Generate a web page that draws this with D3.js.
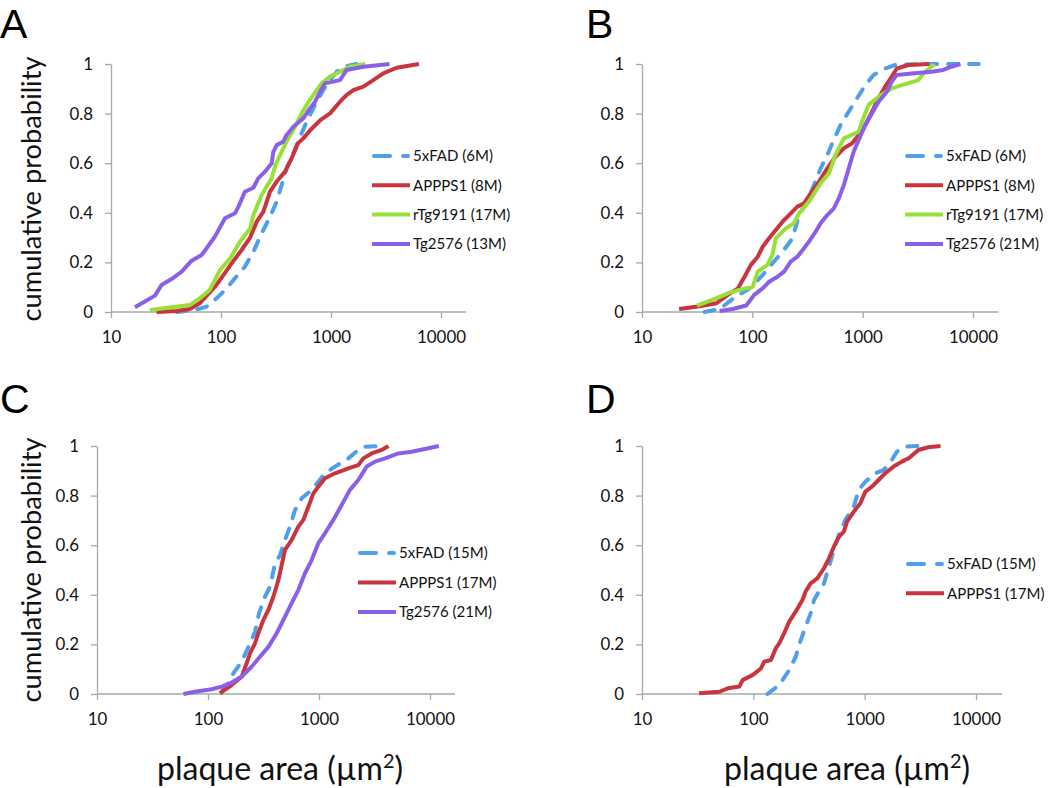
<!DOCTYPE html>
<html><head><meta charset="utf-8">
<script src="https://cdn.jsdelivr.net/npm/d3@7"></script>
<style>body{margin:0;background:#fff}svg{display:block}</style>
</head><body>
<svg id="c" width="1050" height="788"></svg>
<script>
// ---------- tick labels ----------
const xTickValues = [10, 100, 1000, 10000];
const xTickLabels = ["10", "100", "1000", "10000"];
const yTickValues = [0, 0.2, 0.4, 0.6, 0.8, 1];
const yTickLabels = ["0", "0.2", "0.4", "0.6", "0.8", "1"];
const panelLetters = ["A", "B", "C", "D"];
const yTitle = "cumulative probability";

// ---------- data: [plaque area (µm²), cumulative probability] ----------
// Panel A
const A_names = ["5xFAD (6M)", "APPPS1 (8M)", "rTg9191 (17M)", "Tg2576 (13M)"];
const A_5xFAD = [[39.5,0],[58,0.008],[74,0.022],[91,0.055],[109,0.089],[134,0.136],[165,0.183],[197,0.243],[234,0.317],[279,0.384],[321,0.445],[356,0.512],[395,0.579],[455,0.64],[523,0.707],[601,0.767],[667,0.808],[741,0.848],[851,0.895],[979,0.935],[1127,0.969],[1295,0.989],[1700,1]];
const A_APPPS1 = [[26,0],[39.5,0.004],[52,0.012],[64,0.035],[79,0.079],[91,0.109],[105,0.149],[125,0.196],[154,0.25],[184,0.3],[211,0.364],[243,0.405],[279,0.485],[321,0.526],[382,0.566],[439,0.62],[500,0.68],[560,0.7],[650,0.734],[800,0.774],[980,0.801],[1207,0.848],[1387,0.875],[1595,0.895],[1967,0.909],[2425,0.935],[2990,0.962],[3955,0.985],[6300,1]];
const A_rTg9191 = [[22.6,0.008],[52,0.028],[64,0.055],[79,0.089],[98,0.169],[121,0.216],[149,0.284],[184,0.337],[197,0.391],[234,0.472],[289,0.539],[309,0.586],[344,0.633],[395,0.687],[471,0.747],[541,0.801],[601,0.835],[691,0.875],[822,0.922],[979,0.949],[1207,0.969],[1489,0.989],[2050,1]];
const A_Tg2576 = [[16.5,0.019],[25.1,0.066],[28.8,0.109],[35.5,0.133],[43.9,0.163],[54.1,0.207],[66.7,0.23],[74,0.257],[88,0.304],[108.7,0.378],[134,0.398],[144,0.425],[165,0.485],[197,0.501],[218,0.539],[251,0.566],[289,0.6],[299,0.646],[321,0.673],[369,0.687],[395,0.714],[455,0.747],[560,0.781],[644,0.821],[716,0.848],[795,0.888],[882,0.922],[1207,0.935],[1387,0.976],[1967,0.989],[3400,1]];
// Panel B
const B_names = ["5xFAD (6M)", "APPPS1 (8M)", "rTg9191 (17M)", "Tg2576 (21M)"];
const B_5xFAD = [[37,0],[50.5,0.012],[71,0.062],[94,0.095],[124,0.149],[152,0.196],[188,0.243],[231,0.297],[265,0.391],[315,0.445],[362,0.512],[416,0.579],[478,0.633],[548,0.694],[630,0.754],[748,0.808],[890,0.862],[1058,0.915],[1257,0.956],[1600,0.982],[1968,0.996],[3430,1],[11300,1]];
const B_APPPS1 = [[21.7,0.012],[32,0.022],[47,0.035],[60,0.069],[74,0.095],[85,0.142],[97,0.19],[112,0.223],[124,0.263],[142,0.297],[163,0.331],[188,0.364],[223,0.398],[256,0.425],[294,0.438],[338,0.478],[402,0.526],[478,0.579],[567,0.626],[675,0.66],[802,0.68],[921,0.714],[1058,0.754],[1215,0.808],[1394,0.862],[1600,0.909],[1837,0.949],[2039,0.982],[2595,0.996],[4000,1]];
const B_rTg9191 = [[31.5,0.026],[47,0.055],[60,0.075],[76,0.089],[101,0.102],[112,0.163],[137,0.19],[152,0.23],[163,0.297],[201,0.337],[239,0.358],[265,0.398],[326,0.445],[416,0.519],[494,0.559],[567,0.633],[675,0.7],[921,0.727],[986,0.767],[1132,0.835],[1394,0.868],[1837,0.902],[2260,0.915],[3200,0.935],[3550,0.962],[4365,0.996],[4400,1]];
const B_Tg2576 = [[50.5,0.004],[66.5,0.012],[88,0.026],[104,0.069],[124,0.095],[142,0.122],[169,0.142],[194,0.163],[223,0.203],[256,0.223],[294,0.257],[326,0.284],[375,0.324],[416,0.358],[478,0.391],[548,0.418],[608,0.458],[675,0.512],[748,0.579],[830,0.647],[921,0.694],[1058,0.754],[1215,0.801],[1394,0.848],[1656,0.888],[1837,0.929],[2039,0.956],[2780,0.962],[4220,0.969],[5370,0.976],[6380,0.989],[7700,1]];
// Panel C
const C_names = ["5xFAD (15M)", "APPPS1 (17M)", "Tg2576 (21M)"];
const C_5xFAD = [[133,0.01],[152,0.043],[169,0.083],[201,0.13],[239,0.204],[265,0.25],[288,0.325],[326,0.392],[362,0.433],[402,0.527],[446,0.56],[494,0.621],[548,0.675],[608,0.742],[698,0.789],[859,0.823],[986,0.856],[1132,0.89],[1394,0.917],[1837,0.95],[2260,0.984],[2595,0.997],[3800,1]];
const C_APPPS1 = [[128,0.003],[163,0.036],[201,0.07],[223,0.124],[239,0.164],[265,0.204],[284,0.245],[315,0.298],[350,0.339],[388,0.392],[431,0.46],[494,0.581],[567,0.621],[651,0.675],[723,0.702],[802,0.755],[890,0.809],[986,0.836],[1132,0.87],[1394,0.89],[1837,0.91],[2260,0.923],[2507,0.95],[2980,0.97],[3670,0.984],[4220,1]];
const C_Tg2576 = [[60,0],[76,0.009],[108,0.019],[133,0.03],[163,0.046],[201,0.07],[247,0.11],[294,0.15],[350,0.19],[416,0.245],[494,0.312],[567,0.366],[651,0.419],[748,0.487],[859,0.54],[986,0.608],[1132,0.648],[1346,0.702],[1600,0.762],[1901,0.823],[2260,0.863],[2686,0.917],[3200,0.937],[3937,0.95],[5190,0.97],[6840,0.977],[9660,0.991],[12000,1]];
// Panel D
const D_names = ["5xFAD (15M)", "APPPS1 (17M)"];
const D_5xFAD = [[134,0],[171,0.036],[210,0.097],[240,0.15],[267,0.218],[295,0.272],[327,0.325],[351,0.379],[388,0.413],[431,0.446],[478,0.513],[529,0.581],[586,0.641],[671,0.702],[798,0.755],[884,0.823],[1014,0.856],[1245,0.89],[1479,0.903],[1754,0.944],[1945,0.977],[2307,0.997],[3050,1]];
const D_APPPS1 = [[32.5,0.003],[49.7,0.009],[59,0.023],[75,0.03],[80,0.056],[99,0.077],[117,0.103],[125,0.13],[144,0.137],[159,0.184],[171,0.204],[189,0.245],[210,0.292],[240,0.332],[276,0.379],[295,0.413],[327,0.446],[375,0.466],[431,0.507],[478,0.547],[529,0.594],[586,0.634],[650,0.655],[695,0.695],[798,0.735],[915,0.769],[1014,0.816],[1163,0.836],[1333,0.863],[1530,0.89],[1817,0.917],[2155,0.937],[2473,0.95],[3034,0.984],[3725,0.995],[4800,1]];

// ---------- styles ----------
const FONT = "Lato, 'Open Sans', sans-serif";
const LETTER_FONT = "'Liberation Sans', Arial, sans-serif";
const AXIS_COLOR = "#a3aaaa";
const STYLE = {
  "5xFAD":   {color: "#4f9fec", dash: "10,11", legDash: "16,13"},
  "APPPS1":  {color: "#c9353e", dash: null},
  "rTg9191": {color: "#98e035", dash: null},
  "Tg2576":  {color: "#8a60e8", dash: null}
};
const LINE_W = 4;

// ---------- layout ----------
const panels = [
  {letter: 0, lx: 0,   ly: 38,  x0: 111, x1: 441, xEnd: 466,  yB: 312, yT: 64,
   names: A_names, data: [A_5xFAD, A_APPPS1, A_rTg9191, A_Tg2576], legX: 372, legY: 156, legDy: 29.3, yt: 189, xt: null},
  {letter: 1, lx: 586, ly: 38,  x0: 642, x1: 973, xEnd: 998,  yB: 312, yT: 64,
   names: B_names, data: [B_5xFAD, B_APPPS1, B_rTg9191, B_Tg2576], legX: 905, legY: 156, legDy: 29.3, yt: null, xt: null},
  {letter: 2, lx: 0,   ly: 413, x0: 97,  x1: 430, xEnd: 455,  yB: 694, yT: 446,
   names: C_names, data: [C_5xFAD, C_APPPS1, C_Tg2576], legX: 358, legY: 553, legDy: 29.5, yt: 570, xt: 280},
  {letter: 3, lx: 586, ly: 413, x0: 642, x1: 976, xEnd: 1002, yB: 694, yT: 446,
   names: D_names, data: [D_5xFAD, D_APPPS1], legX: 906, legY: 564, legDy: 29.3, yt: null, xt: 847}
];

const svg = d3.select("#c");

function fitSize(text, target) {
  const t = svg.append("text").attr("font-family", FONT).attr("font-size", 100).text(text);
  const w = t.node().getComputedTextLength();
  t.remove();
  return 100 * target / w;
}
const tickFS = fitSize("10000", 49);
const legFS = fitSize("5xFAD (6M)", 80);
const yTitleFS = fitSize(yTitle, 265);

function xTitleText(sel) {
  sel.append("tspan").text("plaque area (µm");
  sel.append("tspan").attr("font-size", "0.62em").attr("dy", "-0.62em").text("2");
  sel.append("tspan").attr("dy", "0.385em").text(")");
}
let xTitleFS;
{
  const t = svg.append("text").attr("font-family", FONT).attr("font-size", 100);
  xTitleText(t);
  const w = t.node().getBBox().width;
  t.remove();
  xTitleFS = 100 * 246 / w;
}

panels.forEach(p => {
  const g = svg.append("g");
  const x = d3.scaleLog().domain([10, 10000]).range([p.x0, p.x1]);
  const y = d3.scaleLinear().domain([0, 1]).range([p.yB, p.yT]);

  // panel letter
  svg.append("text").attr("x", p.lx).attr("y", p.ly)
    .attr("font-family", LETTER_FONT).attr("font-size", 41).attr("fill", "#000")
    .text(panelLetters[p.letter]);

  // y axis
  const ya = g.append("g").attr("transform", `translate(${p.x0},0)`)
    .call(d3.axisLeft(y).tickValues(yTickValues).tickFormat((d, i) => yTickLabels[i])
      .tickSize(6).tickSizeOuter(0).tickPadding(12));
  // x axis
  const xa = g.append("g").attr("transform", `translate(0,${p.yB})`)
    .call(d3.axisBottom(x).tickValues(xTickValues).tickFormat((d, i) => xTickLabels[i])
      .tickSize(6).tickSizeOuter(0).tickPadding(13));
  xa.select(".domain").remove();
  xa.append("line").attr("x1", p.x0).attr("x2", p.xEnd).attr("y1", 0).attr("y2", 0)
    .attr("stroke", AXIS_COLOR).attr("stroke-width", 1.3);
  [ya, xa].forEach(a => {
    a.selectAll(".domain").attr("stroke", AXIS_COLOR).attr("stroke-width", 1.3);
    a.selectAll(".tick line").attr("stroke", AXIS_COLOR).attr("stroke-width", 1.3);
    a.selectAll(".tick text").attr("font-family", FONT).attr("font-size", tickFS).attr("fill", "#111");
  });

  // curves (first series, the dashed one, drawn underneath)
  const line = d3.line().x(d => x(d[0])).y(d => y(d[1]));
  p.data.forEach((ser, i) => {
    const st = STYLE[p.names[i].split(" ")[0]];
    g.append("path").datum(ser).attr("d", line)
      .attr("fill", "none").attr("stroke", st.color).attr("stroke-width", LINE_W)
      .attr("stroke-linejoin", "round").attr("stroke-linecap", st.dash ? "round" : "butt")
      .attr("stroke-dasharray", st.dash);
  });

  // legend
  p.names.forEach((n, i) => {
    const st = STYLE[n.split(" ")[0]];
    const yy = p.legY + i * p.legDy;
    g.append("line").attr("x1", st.dash ? p.legX + 2 : p.legX).attr("x2", st.dash ? p.legX + 36 : p.legX + 38)
      .attr("y1", yy).attr("y2", yy)
      .attr("stroke", st.color).attr("stroke-width", LINE_W)
      .attr("stroke-linecap", st.dash ? "round" : "butt")
      .attr("stroke-dasharray", st.dash ? st.legDash : null);
    g.append("text").attr("x", p.legX + 41).attr("y", yy).attr("dy", "0.35em")
      .attr("font-family", FONT).attr("font-size", legFS).attr("fill", "#111").text(n);
  });

  // y title
  if (p.yt !== null) {
    svg.append("text").attr("transform", `translate(41,${p.yt}) rotate(-90)`)
      .attr("text-anchor", "middle").attr("font-family", FONT).attr("font-size", yTitleFS)
      .attr("fill", "#111").text(yTitle);
  }
  // x title
  if (p.xt !== null) {
    const t = svg.append("text").attr("x", p.xt).attr("y", 780).attr("text-anchor", "middle")
      .attr("font-family", FONT).attr("font-size", xTitleFS).attr("fill", "#111");
    xTitleText(t);
  }
});
</script>
</body></html>
